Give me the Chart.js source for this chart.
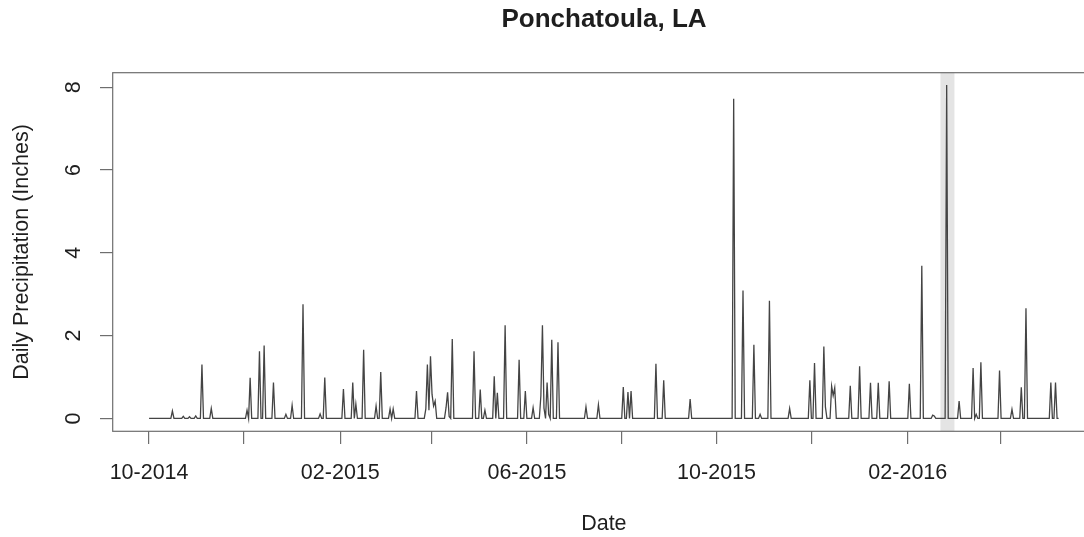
<!DOCTYPE html>
<html><head><meta charset="utf-8">
<script src="https://cdn.jsdelivr.net/npm/chart.js@4.4.1/dist/chart.umd.min.js"></script>
<style>
html,body{margin:0;padding:0;background:#fff;overflow:hidden;}
#wrap{position:relative;width:1208px;height:537px;}
</style></head><body>
<div id="wrap"><canvas id="c"></canvas></div>
<script>
// ---- data ----
const startDate = '2014-10-01';
const endDate = '2016-05-08';
const rainDates = [
 '2014-10-16','2014-10-23','2014-10-27','2014-10-31','2014-11-04','2014-11-10',
 '2014-12-03','2014-12-05','2014-12-11','2014-12-14','2014-12-20','2014-12-28',
 '2015-01-01','2015-01-08','2015-01-19','2015-01-22','2015-02-03','2015-02-09',
 '2015-02-11','2015-02-16','2015-02-24','2015-02-27','2015-03-05','2015-03-07',
 '2015-03-22','2015-03-28','2015-03-29','2015-03-30','2015-03-31','2015-04-01',
 '2015-04-02','2015-04-03','2015-04-10','2015-04-11','2015-04-12','2015-04-14',
 '2015-04-28','2015-05-02','2015-05-05','2015-05-11','2015-05-13','2015-05-18',
 '2015-05-27','2015-05-31','2015-06-05','2015-06-10','2015-06-11','2015-06-12',
 '2015-06-14','2015-06-15','2015-06-17','2015-06-21','2015-07-09','2015-07-17',
 '2015-08-02','2015-08-05','2015-08-07','2015-08-23','2015-08-28','2015-09-14',
 '2015-10-12','2015-10-18','2015-10-25','2015-10-29','2015-11-04','2015-11-17',
 '2015-11-30','2015-12-03','2015-12-09','2015-12-10','2015-12-14','2015-12-15',
 '2015-12-16','2015-12-26','2016-01-01','2016-01-08','2016-01-13','2016-01-20',
 '2016-02-02','2016-02-10','2016-02-17','2016-02-18','2016-02-26','2016-03-05',
 '2016-03-14','2016-03-16','2016-03-19','2016-03-31','2016-04-08','2016-04-14',
 '2016-04-17','2016-05-03','2016-05-06'
];
const rainValues = [
 0.18,0.05,0.04,0.06,1.30,0.24,
 0.20,0.98,1.62,1.76,0.87,0.10,
 0.32,2.76,0.11,0.99,0.71,0.87,
 0.35,1.66,0.30,1.12,0.23,0.23,
 0.66,0.23,1.30,0.20,1.50,0.58,
 0.30,0.42,0.26,0.63,0.05,1.92,
 1.62,0.70,0.20,1.02,0.62,2.25,
 1.42,0.66,0.26,0.55,2.25,0.25,
 0.87,0.10,1.90,1.84,0.28,0.33,
 0.76,0.64,0.66,1.32,0.92,0.47,
 7.72,3.09,1.78,0.10,2.84,0.24,
 0.92,1.34,1.74,0.28,0.78,0.55,
 0.74,0.79,1.26,0.86,0.86,0.90,
 0.84,3.69,0.08,0.06,8.05,0.42,
 1.22,0.10,1.36,1.16,0.22,0.75,
 2.66,0.87,0.87
];
const tickDates = ['2014-10-01','2014-12-01','2015-02-01','2015-04-01','2015-06-01',
                   '2015-08-01','2015-10-01','2015-12-01','2016-02-01','2016-04-01'];
const tickLabels = ['10-2014','','02-2015','','06-2015','','10-2015','','02-2016',''];
const yTickValues = [0, 2, 4, 6, 8];
const highlightDates = ['2016-02-22', '2016-03-02'];
const titleText = 'Ponchatoula, LA';
const xTitleText = 'Date';
const yTitleText = 'Daily Precipitation (Inches)';

// ---- build ----
const DAY = 864e5;
const t0 = Date.parse(startDate + 'T00:00:00Z');
function dayOf(s) { return Math.round((Date.parse(s + 'T00:00:00Z') - t0) / DAY); }
const nDays = dayOf(endDate);
const rainMap = new Map(rainDates.map((d, i) => [dayOf(d), rainValues[i]]));
const series = [];
for (let d = 0; d <= nDays; d++) series.push({x: d, y: rainMap.has(d) ? rainMap.get(d) : 0});
const xPad = nDays * 0.04;
const tickDays = tickDates.map(dayOf);
const band = highlightDates.map(dayOf);

const FONT = "'Liberation Sans', Arial, Helvetica, sans-serif";
Chart.defaults.font.family = FONT;
const TEXT = '#1e1e1e';
const AXIS = '#6e6e6e';

const frame = {
  id: 'frame',
  beforeDatasetsDraw(chart) {
    const {ctx, chartArea: a, scales: {x}} = chart;
    ctx.save();
    const x0 = x.getPixelForValue(band[0]), x1 = x.getPixelForValue(band[1]);
    ctx.fillStyle = '#e4e4e4';
    ctx.fillRect(x0, a.top, x1 - x0, a.bottom - a.top);
    ctx.strokeStyle = AXIS;
    ctx.lineWidth = 1.2;
    ctx.strokeRect(a.left, a.top, a.right - a.left, a.bottom - a.top);
    ctx.restore();
  }
};

new Chart(document.getElementById('c'), {
  type: 'line',
  data: { datasets: [{
    data: series,
    borderColor: '#444',
    borderWidth: 1.3,
    pointRadius: 0,
    tension: 0,
    fill: false
  }]},
  options: {
    responsive: true,
    maintainAspectRatio: false,
    animation: false,
    events: [],
    layout: { padding: { top: 0, left: 0, right: 0, bottom: 0 } },
    plugins: {
      legend: { display: false },
      tooltip: { enabled: false },
      title: {
        display: true, text: titleText, color: TEXT,
        font: { size: 26, weight: 'bold', family: FONT },
        padding: { top: 4, bottom: 37.5 }
      }
    },
    scales: {
      x: {
        type: 'linear',
        min: -xPad, max: nDays + xPad,
        afterBuildTicks: s => { s.ticks = tickDays.map(v => ({value: v})); },
        afterFit: s => { s.height = 105.7; },
        ticks: {
          autoSkip: false, maxRotation: 0, minRotation: 0,
          color: TEXT, font: { size: 21.5 }, padding: 16,
          callback: (v, i) => tickLabels[i]
        },
        grid: { drawOnChartArea: false, drawTicks: true, tickLength: 12.7, color: AXIS, lineWidth: 1.2 },
        border: { display: false },
        title: { display: true, text: xTitleText, color: TEXT, font: { size: 21.5 }, padding: { top: 0, bottom: 0 } }
      },
      y: {
        type: 'linear',
        min: -0.31, max: 8.35,
        afterBuildTicks: s => { s.ticks = yTickValues.map(v => ({value: v})); },
        afterFit: s => { s.width = 112.7; },
        ticks: {
          color: TEXT, font: { size: 21.5 }, padding: 20,
          minRotation: 90, maxRotation: 90, crossAlign: 'center',
          callback: v => String(v)
        },
        grid: { drawOnChartArea: false, drawTicks: true, tickLength: 12.7, color: AXIS, lineWidth: 1.2 },
        border: { display: false },
        title: { display: true, text: yTitleText, color: TEXT, font: { size: 21.5 }, padding: { top: 9, bottom: 0 } }
      },
      spacer: {
        type: 'linear', position: 'right', display: true,
        afterFit: s => { s.width = 113; },
        ticks: { display: false },
        grid: { display: false, drawTicks: false },
        border: { display: false }
      }
    }
  },
  plugins: [frame]
});
</script>
</body></html>
